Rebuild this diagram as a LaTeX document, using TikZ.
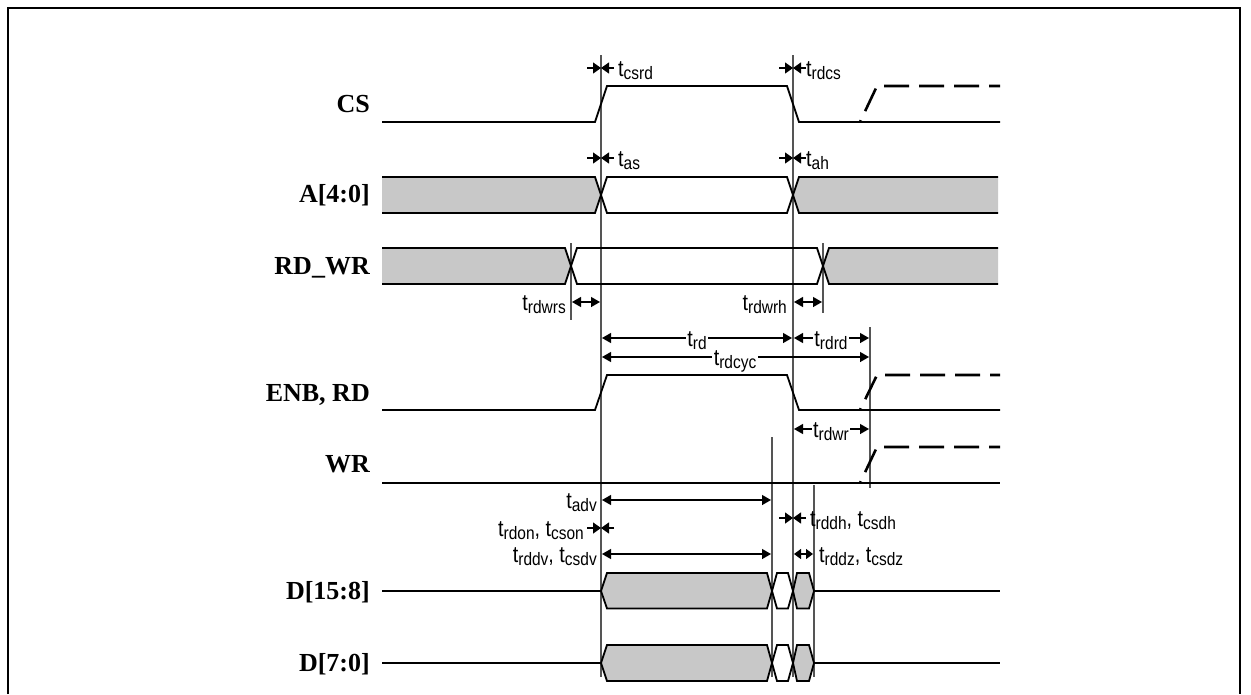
\documentclass[tikz,border=0pt]{standalone}
\usepackage{fontspec}
\setmainfont{Liberation Serif}
\newfontfamily\tfont[FakeStretch=0.86]{Liberation Sans}
\usetikzlibrary{arrows.meta}
\newcommand\tsb[1]{t\raisebox{-3.5pt}{\fontsize{18}{18}\selectfont #1}}
\begin{document}
\begin{tikzpicture}[x=1pt,y=-1pt,
  sig/.style={line width=1.8pt},
  dsig/.style={line width=2.6pt, dash pattern=on 25pt off 10pt, dash phase=23pt},
  guide/.style={line width=1.2pt, draw={rgb,255:red,85;green,85;blue,85}},
  dimarr/.style={line width=1.3pt, {Triangle[length=9pt,width=10pt]}-{Triangle[length=9pt,width=10pt]}},
  smallarr/.style={line width=1.3pt, {Triangle[length=7pt,width=10pt]}-{Triangle[length=7pt,width=10pt]}},
  tiparr/.style={line width=1.3pt, -{Triangle[length=8pt,width=11pt]}},
  lbl/.style={font=\fontsize{26}{26}\selectfont\bfseries, anchor=base east, inner sep=0pt},
  tl/.style={font=\tfont\fontsize{23}{23}\selectfont, inner sep=0pt},
  tlc/.style={tl, fill=white, inner sep=1.5pt, anchor=base},
  hatch/.style={fill={rgb,255:red,200;green,200;blue,200}},
  frame/.style={line width=2.3pt}
]
\useasboundingbox (0,0) rectangle (1251,694);
\draw[frame] (8,694) -- (8,8) -- (1240,8) -- (1240,694);

% guide lines
\draw[guide] (601,55) -- (601,677);
\draw[guide] (793,55) -- (793,677);
\draw[guide] (571,243) -- (571,320);
\draw[guide] (823,243) -- (823,313);
\draw[guide] (870,327) -- (870,488);
\draw[guide] (772,437) -- (772,677);
\draw[guide] (814,485) -- (814,677);

% signal labels
\node[lbl] (lcs) at (370,112) {CS};
\node[lbl] (la) at (370,202) {A[4:0]};
\node[lbl] (lrw) at (370,274) {RD\_WR};
\node[lbl] (lenb) at (370,401) {ENB, RD};
\node[lbl] (lwr) at (370,472) {WR};
\node[lbl] (ld1) at (370,599) {D[15:8]};
\node[lbl] (ld0) at (370,671) {D[7:0]};

% CS
\draw[sig] (382,122) -- (595,122) -- (607,86) -- (787,86) -- (799,122) -- (1000,122);
\draw[dsig] (860,122) -- (877,86) -- (1000,86);

% A[4:0]
\fill[hatch] (382,177) -- (595,177) -- (601,195) -- (595,213) -- (382,213) -- cycle;
\fill[hatch] (998,177) -- (799,177) -- (793,195) -- (799,213) -- (998,213) -- cycle;
\draw[sig] (382,177) -- (595,177) -- (607,213) -- (787,213) -- (799,177) -- (998,177);
\draw[sig] (382,213) -- (595,213) -- (607,177) -- (787,177) -- (799,213) -- (998,213);

% RD_WR
\fill[hatch] (382,248) -- (565,248) -- (571,266) -- (565,284) -- (382,284) -- cycle;
\fill[hatch] (998,248) -- (829,248) -- (823,266) -- (829,284) -- (998,284) -- cycle;
\draw[sig] (382,248) -- (565,248) -- (577,284) -- (817,284) -- (829,248) -- (998,248);
\draw[sig] (382,284) -- (565,284) -- (577,248) -- (817,248) -- (829,284) -- (998,284);

% ENB, RD
\draw[sig] (382,410) -- (595,410) -- (607,375) -- (787,375) -- (799,410) -- (1000,410);
\draw[dsig] (860,410) -- (877,375) -- (1000,375);

% WR
\draw[sig] (382,483) -- (1000,483);
\draw[dsig] (860,483) -- (877,447) -- (1000,447);

% D[15:8]
\draw[sig] (382,591) -- (601,591);
\draw[sig,hatch] (601,591) -- (607,573) -- (767,573) -- (772,591) -- (767,608.5) -- (607,608.5) -- cycle;
\draw[sig] (772,591) -- (777,573) -- (788,573) -- (793,591) -- (788,608.5) -- (777,608.5) -- cycle;
\draw[sig,hatch] (793,591) -- (797,573) -- (809,573) -- (814,591) -- (809,608.5) -- (797,608.5) -- cycle;
\draw[sig] (814,591) -- (1000,591);

% D[7:0]
\draw[sig] (382,663) -- (601,663);
\draw[sig,hatch] (601,663) -- (607,645) -- (767,645) -- (772,663) -- (767,681) -- (607,681) -- cycle;
\draw[sig] (772,663) -- (777,645) -- (788,645) -- (793,663) -- (788,681) -- (777,681) -- cycle;
\draw[sig,hatch] (793,663) -- (797,645) -- (809,645) -- (814,663) -- (809,681) -- (797,681) -- cycle;
\draw[sig] (814,663) -- (1000,663);

% t_csrd / t_as / t_rdcs / t_ah (inward arrows)
\draw[tiparr] (587,68) -- (601,68);  \draw[tiparr] (614,68) -- (601,68);
\node[tl, anchor=base west] (tcsrd) at (618,76) {\tsb{csrd}};
\draw[tiparr] (779,68) -- (793,68);  \draw[tiparr] (806,68) -- (793,68);
\node[tl, anchor=base west] (trdcs) at (806,76) {\tsb{rdcs}};
\draw[tiparr] (587,158) -- (601,158);  \draw[tiparr] (614,158) -- (601,158);
\node[tl, anchor=base west] (tas) at (618,166) {\tsb{as}};
\draw[tiparr] (779,158) -- (793,158);  \draw[tiparr] (806,158) -- (793,158);
\node[tl, anchor=base west] (tah) at (806,166) {\tsb{ah}};

% t_rdwrs / t_rdwrh
\draw[dimarr] (572,302) -- (600,302);
\node[tl, anchor=base east] (trdwrs) at (566,310) {\tsb{rdwrs}};
\draw[dimarr] (794,302) -- (822,302);
\node[tl, anchor=base east] (trdwrh) at (787,310) {\tsb{rdwrh}};

% t_rd, t_rdrd, t_rdcyc
\draw[dimarr] (602,338) -- (792,338);
\node[tlc] (trd) at (697,346) {\tsb{rd}};
\draw[dimarr] (794,338) -- (869,338);
\node[tlc] (trdrd) at (831,346) {\tsb{rdrd}};
\draw[dimarr] (602,357) -- (869,357);
\node[tlc] (trdcyc) at (735,365) {\tsb{rdcyc}};

% t_rdwr
\draw[dimarr] (794,429) -- (869,429);
\node[tlc] (trdwr) at (831,437) {\tsb{rdwr}};

% t_adv
\draw[dimarr] (602,500) -- (771,500);
\node[tl, anchor=base east] (tadv) at (597,508) {\tsb{adv}};
% t_rdon
\draw[tiparr] (587,528) -- (601,528);  \draw[tiparr] (614,528) -- (601,528);
\node[tl, anchor=base east] (trdon) at (584,536) {\tsb{rdon}, \tsb{cson}};
% t_rddv
\draw[dimarr] (602,554) -- (771,554);
\node[tl, anchor=base east] (trddv) at (597,562) {\tsb{rddv}, \tsb{csdv}};
% t_rddh
\draw[tiparr] (779,518) -- (793,518);  \draw[tiparr] (806,518) -- (793,518);
\node[tl, anchor=base west] (trddh) at (810,526) {\tsb{rddh}, \tsb{csdh}};
% t_rddz
\draw[smallarr] (794,554) -- (813,554);
\node[tl, anchor=base west] (trddz) at (819,562) {\tsb{rddz}, \tsb{csdz}};
\end{tikzpicture}
\end{document}
